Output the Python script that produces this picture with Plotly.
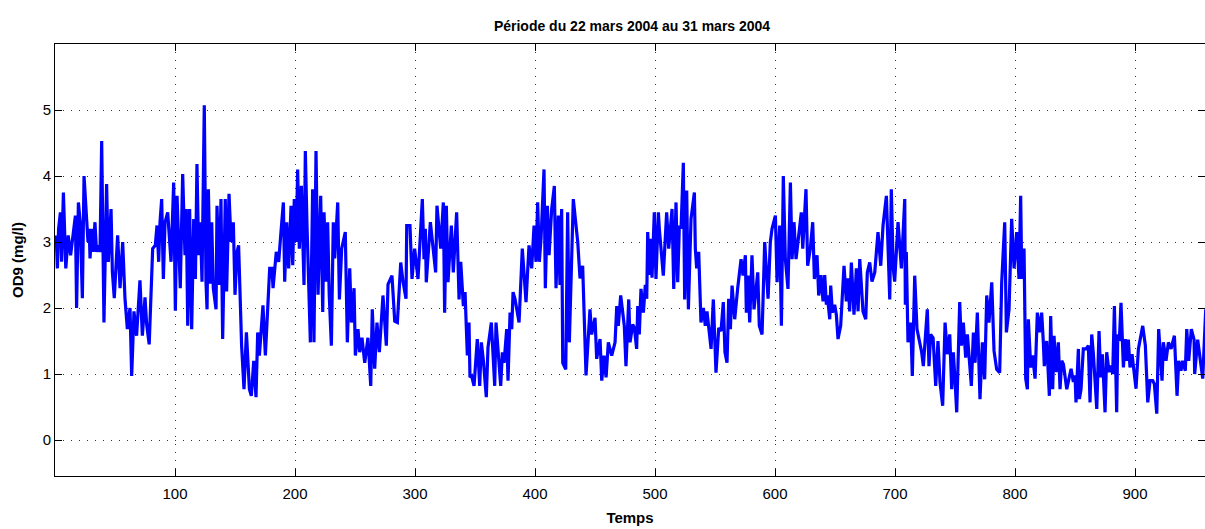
import plotly.graph_objects as go

# OD9 readings (vertices of the trace), split by stretch of time
t_a = [1, 2, 3, 4.5, 5.5, 7, 9, 11, 13, 15, 17, 18, 19.5, 21, 22.8, 24.2, 26.4, 27.5, 28.5, 29.2,
       30.5, 31.8, 33.3, 34.6, 36, 37.5, 38.9, 40.8, 43, 44.4, 46.7, 47.8, 49.4, 52.2, 54.2, 56.4,
       58.3, 60.3, 62.5, 63.9, 65.8, 68, 70.8, 72.8, 75, 76.4, 78.5, 80]
v_a = [3.1, 2.6, 3.2, 3.45, 2.7, 3.75, 2.6, 3.1, 2.8, 3.15, 3.4, 2.0, 3.6, 3.3, 2.15, 4.0, 3.3, 3.0, 3.2, 2.75,
       3.2, 2.85, 3.3, 2.85, 2.95, 2.85, 4.53, 1.78, 3.88, 2.7, 3.5, 2.55, 2.15, 3.1, 2.3, 3.0,
       2.15, 1.68, 2.0, 0.97, 1.95, 1.58, 2.42, 1.58, 2.16, 1.75, 1.45, 2.2]

t_b = [81.4, 83.6, 85, 86.4, 87.5, 88.9, 90.3, 91.7, 93.9, 96.7, 98.9, 100.3, 101.7, 104.4, 106.4, 108.3,
       109.4, 110.6, 112.2, 113.9, 115.6, 117, 118.3, 119.7, 121.1, 122.5, 124.4, 125.8, 126.7, 127.8,
       129.4, 130.6, 131.9, 134.2, 135, 136.9, 138.3, 139.7, 141.9, 143, 145, 146.7, 148.6, 150, 151.7,
       153, 155.5, 157.5, 159.5]
v_b = [2.9, 2.95, 3.25, 2.7, 3.3, 3.65, 2.44, 3.3, 3.45, 2.7, 3.9, 1.96, 3.7, 2.3, 4.03, 2.8,
       3.5, 1.73, 3.5, 1.68, 3.35, 2.44, 4.18, 2.8, 3.3, 2.4, 5.07, 2.4, 1.98, 3.8,
       2.37, 3.3, 2.3, 1.98, 3.55, 2.35, 3.65, 1.53, 3.65, 2.25, 3.73, 3.0, 3.3, 2.2, 2.85,
       2.95, 1.43, 0.77, 1.63]

t_c = [162, 163.6, 165.6, 167.5, 168.9, 170.3, 171.7, 173.3, 175.3, 177.2, 178.9, 180.8, 181.7, 184.4,
       186.4, 188.3, 190.3, 191.4, 193.1, 194.7, 196.7, 198.1, 199.4, 201, 202.2, 203.6, 205.3, 207.5,
       208.6, 210, 211, 212.8, 214.7, 215.8, 217.5, 219.2, 221.4, 223.1, 224.2, 225.8, 227.2, 228.5,
       230.3, 231.9, 233.1, 235.6, 237, 238.9]
v_c = [0.77, 0.67, 1.2, 0.65, 1.63, 1.28, 1.63, 2.04, 1.28, 2.1, 2.6, 2.6, 2.3, 2.85,
       2.7, 3.15, 3.6, 2.4, 3.3, 2.6, 3.55, 2.65, 3.65, 3.0, 4.1, 2.9, 3.85, 2.35,
       4.38, 3.25, 2.5, 1.48, 3.8, 1.48, 4.38, 2.2, 3.7, 1.94, 3.45, 2.4, 3.3, 2.2,
       1.43, 3.3, 2.75, 3.6, 2.13, 2.9]

t_d = [241.9, 243.6, 245.6, 247, 249.2, 250.3, 252.5, 253.9, 255.8, 258.1, 260.8, 263.1, 264.4, 266.4,
       268.3, 270.3, 273.3, 276.1, 277.5, 280.8, 283.1, 285.3, 288.1, 290, 292.5, 293.1, 295.8, 297.5,
       299.7, 302.5, 306.1, 307.5, 308.6, 309.4, 312.8, 315, 317.2, 318.3]
v_d = [3.15, 1.48, 2.6, 1.78, 2.3, 1.28, 1.68, 1.33, 1.55, 1.17, 1.55, 0.82, 1.98, 1.08,
       1.78, 1.33, 2.19, 1.43, 2.36, 2.49, 1.8, 1.78, 2.69, 2.4, 2.14, 3.25, 3.25, 2.44,
       2.9, 2.44, 3.65, 2.74, 3.2, 2.39, 3.3, 2.9, 2.54, 3.55]

t_e = [321.4, 323.6, 324.7, 326.1, 327.5, 330.3, 331.9, 334.7, 336.7, 338.1, 340.3, 341.7, 343.6, 345,
       345.8, 347.2, 349.2, 351.9, 353.9, 355.3, 357, 359.4, 360.8, 363.6, 366.4, 367.5, 369.5, 371.4,
       372.8, 374.2, 376.4, 377.5, 379.2, 380.6, 381.7, 383.3, 386.7, 389.4, 392.5, 395, 397.2, 399.2]
v_e = [2.9, 3.6, 1.93, 3.55, 2.39, 3.25, 2.54, 3.45, 2.13, 2.7, 2.03, 2.24, 1.28, 1.78,
       0.95, 0.97, 0.82, 1.53, 0.82, 1.48, 1.2, 0.65, 1.4, 1.78, 0.82, 1.78, 1.2, 0.82,
       1.33, 1.17, 1.68, 0.9, 1.93, 1.68, 2.24, 2.14, 1.78, 2.9, 2.09, 2.95, 2.6, 3.25]

t_f = [400.8, 402.2, 403.6, 405, 407.5, 408.6, 410.3, 411.7, 413.9, 416.1, 417.5, 419.4, 420.8, 422.2,
       423.1, 425.6, 427.2, 428.6, 431.9, 435.6, 437.5, 439.7, 442.5, 444.4, 445.8, 447.2, 450, 451.4,
       454.2, 455.6, 457.5, 459.2, 461.1, 463.9, 466.7, 468.1, 469.4, 471.4, 474.4, 475.8, 478.1, 479.2]
v_f = [2.7, 3.6, 2.7, 3.05, 4.1, 2.3, 3.55, 2.8, 3.5, 3.85, 2.3, 3.4, 2.35, 3.5,
       1.17, 1.07, 3.45, 1.48, 3.65, 3.0, 2.45, 2.64, 0.98, 1.68, 1.98, 1.6, 1.85, 1.23,
       1.53, 0.9, 1.28, 0.95, 1.48, 1.28, 1.48, 2.03, 1.73, 2.19, 1.73, 1.12, 2.13, 1.48]

t_g = [481.4, 482.8, 484.7, 485.6, 486.9, 488.3, 490.3, 491.9, 493.1, 493.9, 495.3, 496.7, 497.5, 499.4,
       500.8, 502.8, 503.6, 506.9, 509.7, 511.4, 514.2, 515.6, 517.5, 518.9, 520.3, 521.7, 523.6, 524.7,
       526.4, 527.8, 530, 532.8, 533.6, 534.7, 536.4, 538.3, 540.3, 541.9, 543.3, 546.7, 548.6, 550.8,
       553.1, 555, 556.9, 558.3]
v_g = [1.75, 1.7, 1.38, 2.03, 1.6, 2.29, 1.93, 2.35, 2.14, 3.15, 2.5, 3.05, 2.46, 3.45,
       2.44, 3.45, 3.2, 2.49, 3.45, 2.9, 3.5, 2.29, 3.6, 2.39, 3.25, 3.2, 4.2, 2.13,
       3.78, 1.98, 3.35, 3.75, 2.9, 2.6, 2.85, 1.78, 2.0, 1.73, 1.95, 1.38, 2.13, 1.02,
       1.7, 1.65, 2.09, 1.33]

t_h = [560, 561.4, 562.8, 564.2, 566.4, 568.9, 571.7, 573.3, 575.3, 576.1, 577.5, 578.9, 580.8, 582.5,
       585.6, 586.9, 589.2, 591.4, 594.2, 596.1, 597.5, 600.3, 601.7, 603.9, 605.3, 606.9, 608.6, 610.8,
       612.8, 614.2, 615.8, 617.5, 619.7, 621.9, 623.1, 625.8, 627.2, 629.4, 631.4, 632.8, 635, 636.4, 638.3]
v_h = [1.17, 2.14, 1.68, 2.34, 1.83, 2.3, 2.74, 2.49, 2.8, 1.93, 2.49, 1.78, 2.8, 1.98,
       2.54, 1.73, 1.6, 3.0, 2.14, 3.0, 3.2, 3.4, 2.39, 3.25, 1.73, 4.0, 2.74, 2.29,
       3.9, 2.74, 3.3, 2.74, 3.05, 3.45, 2.9, 3.8, 2.64, 2.9, 3.3, 2.44, 2.8, 2.19, 2.5]

t_i = [640, 641.4, 642.8, 643.6, 645.6, 646.4, 647.8, 649.7, 651.1, 652.5, 654.7, 657.5, 659.4, 660.8,
       662.2, 663.6, 665.8, 667.8, 669.2, 670.6, 673.3, 675.6, 676.9, 678.9, 680.8, 683.1, 684.4, 685.8,
       688.1, 690, 692.8, 694.5, 695.6, 696.9, 698.5, 699.7, 702.5, 705.3, 708.1, 708.6, 709.4, 710.8,
       713.1, 714.4, 716.4, 718.3]
v_i = [2.1, 2.5, 2.05, 2.19, 1.83, 2.34, 1.93, 2.05, 1.9, 1.53, 1.73, 2.64, 2.1, 2.45,
       1.95, 2.69, 1.9, 2.6, 1.95, 2.74, 1.95, 1.83, 2.54, 2.69, 2.4, 2.54, 2.8, 3.15,
       2.64, 3.25, 3.7, 2.9, 2.13, 3.8, 2.6, 2.4, 3.3, 2.6, 3.65, 2.05, 2.85, 1.48,
       1.78, 0.97, 2.49, 1.68]

t_j = [720.5, 722.2, 723.6, 725, 726.9, 728.3, 729.7, 731.7, 733.9, 735.8, 737.5, 739.7, 741.7, 743.6,
       745.6, 747.2, 748.6, 750, 751.4, 753.9, 755.3, 756.9, 758.9, 760.3, 763.6, 765.3, 766.7, 768.6,
       770.8, 772.8, 774.7, 776.4, 778.3, 780.6, 782.5, 784.7, 787.2, 788.9, 791.4, 792.8, 795, 797.2, 798.3]
v_j = [1.5, 1.33, 1.12, 1.5, 1.98, 1.12, 1.6, 1.55, 0.82, 1.5, 0.87, 0.52, 1.78, 1.3,
       1.6, 0.77, 1.33, 0.9, 0.42, 2.09, 1.43, 1.78, 1.25, 1.6, 0.82, 1.63, 1.17, 1.93,
       0.62, 1.48, 0.92, 2.19, 1.78, 2.39, 1.35, 1.07, 1.02, 2.39, 3.3, 1.63, 1.98, 3.35, 2.85]

t_k = [799.2, 801.4, 803.3, 804.7, 805.6, 807.5, 808.9, 810.3, 811.1, 813.1, 814.7, 816.7, 818.6, 820.3,
       822.2, 823.6, 824.4, 826.4, 828.6, 829.7, 831.4, 832.5, 834.2, 836.1, 837.5, 838.9, 840.3, 843.1,
       846.7, 848.6, 850, 850.8, 852.8, 853.6, 855, 856.9, 859.2, 861.1, 862.5, 863.9, 865.3, 868.1,
       870, 871.4, 872.8, 875, 876.4, 878.3]
v_k = [2.6, 3.15, 2.44, 3.7, 2.44, 2.9, 0.93, 0.77, 1.83, 1.1, 1.28, 0.93, 1.93, 1.63,
       1.93, 1.48, 1.12, 1.5, 0.67, 1.88, 0.77, 1.58, 1.03, 1.48, 0.77, 1.2, 1.15, 0.77,
       1.08, 0.88, 0.98, 0.57, 1.38, 0.62, 0.77, 1.38, 1.38, 1.43, 0.57, 1.6, 1.3, 0.47,
       1.65, 0.95, 1.3, 0.42, 1.33, 1.03]

t_l = [880, 881.4, 882.8, 884.7, 885.6, 886.9, 888.3, 890.3, 891.9, 893.1, 894.4, 895.8, 897.5, 899.4,
       900.8, 902.8, 906.4, 908.6, 910.6, 912.5, 914.7, 916.1, 918.1, 919.7, 922.5, 923.6, 925.8, 927.8,
       930, 932.8, 935, 936.4, 938.3, 939.7, 941.9, 943.1, 944.7, 946.9, 949.2, 949.7, 952.2, 956.4, 958.9]
v_l = [1.13, 1.0, 2.03, 0.42, 1.6, 1.5, 2.08, 1.1, 1.53, 1.2, 1.52, 1.1, 1.3, 1.0,
       0.78, 1.38, 1.73, 1.43, 0.57, 0.9, 0.9, 0.85, 0.4, 1.68, 0.9, 1.48, 1.2, 1.48,
       1.38, 1.58, 0.67, 1.2, 1.05, 1.2, 1.05, 1.68, 1.2, 1.68, 1.52, 1.0, 1.52, 0.93, 1.98]

temps = t_a + t_b + t_c + t_d + t_e + t_f + t_g + t_h + t_i + t_j + t_k + t_l
od9 = v_a + v_b + v_c + v_d + v_e + v_f + v_g + v_h + v_i + v_j + v_k + v_l

x_ticks = [100, 200, 300, 400, 500, 600, 700, 800, 900]
y_ticks = [0, 1, 2, 3, 4, 5]

font = "Liberation Sans, Arial, sans-serif"

fig = go.Figure()
fig.add_trace(go.Scatter(x=temps, y=od9, mode="lines",
                         line=dict(color="rgb(0,0,255)", width=3.2), showlegend=False))

axis_style = dict(showline=True, linecolor="black", linewidth=1, mirror="allticks",
                  ticks="inside", ticklen=7, tickcolor="black",
                  showgrid=True, gridcolor="#333333", gridwidth=1, griddash="1px,7px",
                  zeroline=False, automargin=False,
                  tickfont=dict(family=font, size=15, color="black"))

fig.update_xaxes(range=[0, 958.3], tickvals=x_ticks, ticklabelstandoff=4,
                 title=dict(text="<b>Temps</b>", font=dict(family=font, size=15, color="black"),
                            standoff=11),
                 **axis_style)
fig.update_yaxes(range=[-0.545, 6.0], tickvals=y_ticks,
                 title=dict(text="<b>OD9 (mg/l)</b>", font=dict(family=font, size=15, color="black"),
                            standoff=15),
                 **axis_style)

fig.update_layout(
    width=1205, height=529,
    margin=dict(l=55, r=0, t=44, b=53, autoexpand=False),
    paper_bgcolor="white", plot_bgcolor="white",
    font=dict(family=font, color="black"),
    title=dict(text="<b>Période du 22 mars 2004 au 31 mars 2004</b>",
               font=dict(family=font, size=14, color="black"),
               xref="container", yref="container",
               x=0.5245, xanchor="center", y=1 - 26 / 529, yanchor="middle"),
)
fig.update_xaxes(tickprefix="<b>", ticksuffix="</b>")
fig.update_yaxes(tickprefix="<b>", ticksuffix="</b>")

# drop the default page margin so the figure sits at the window origin
fig.write_html("out.html", config={"displayModeBar": False},
               post_script="document.body.style.margin='0';document.body.style.overflow='hidden';")
